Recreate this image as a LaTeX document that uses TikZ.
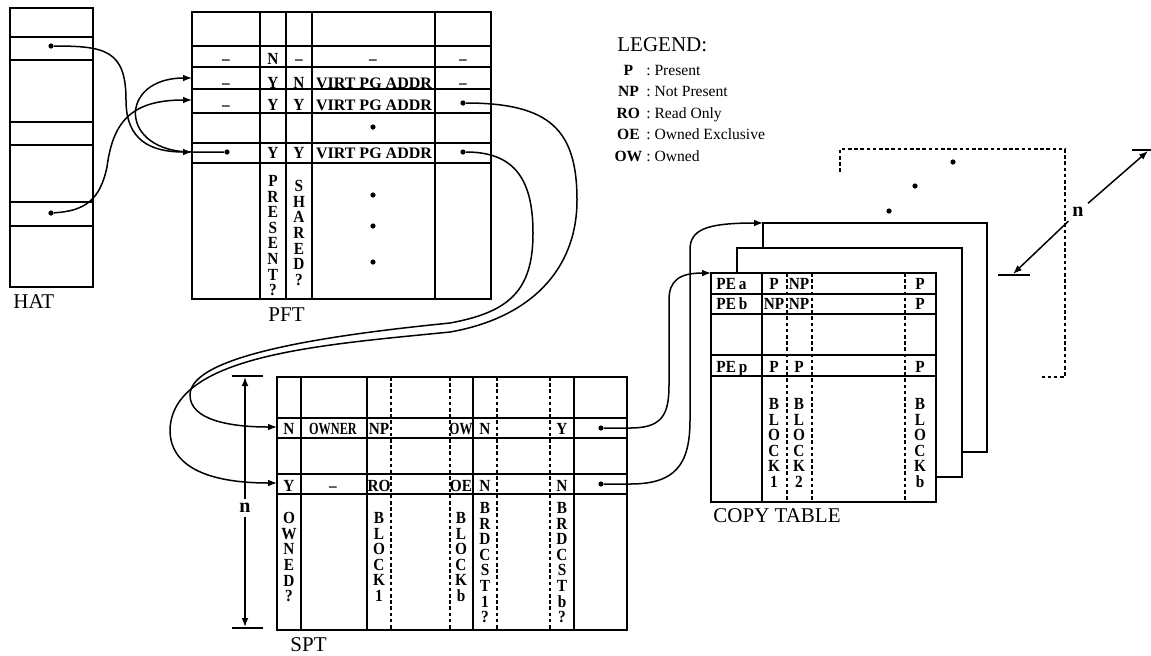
\documentclass[tikz,border=0pt]{standalone}
\usepackage{fontspec}
\usepackage{graphicx}
\setmainfont{Liberation Serif}
\newfontfamily\narrowserif[FakeStretch=0.9]{Liberation Serif}
\newcommand\cellfont{\narrowserif\bfseries\fontsize{8.5}{8.5}\selectfont}
\newcommand\vertfont{\narrowserif\bfseries\fontsize{8.5}{7.8}\selectfont}
\usetikzlibrary{arrows.meta}

\begin{document}
\begin{tikzpicture}[x=0.5pt, y=-0.5pt, >={Latex[length=4.5pt,width=3.4pt]},
    frame/.style={line width=1.2pt},
    backframe/.style={line width=0.9pt},
    rule/.style={line width=0.7pt},
    dotrule/.style={line width=0.7pt, dash pattern=on 1.8pt off 1.3pt},
    link/.style={line width=0.75pt},
    ptr/.style={circle, fill, inner sep=0pt, minimum size=2.6pt},
    cell/.style={inner sep=0pt, text height=5.5pt, text depth=0pt, font=\cellfont},
    wide/.style={cell, font=\bfseries\fontsize{8}{8}\selectfont},
    vert/.style={inner sep=0pt, anchor=north, align=center, font=\vertfont},
    title/.style={inner sep=0pt, anchor=base west, font=\fontsize{10.5}{12}\selectfont},
    dimlabel/.style={inner sep=2pt, font=\bfseries\fontsize{10}{12}\selectfont},
    legend/.style={inner sep=0pt, anchor=base west, font=\fontsize{7.8}{9}\selectfont}]
  \useasboundingbox (0,0) rectangle (1151,655);

  % HAT
  \draw[frame] (10,8) rectangle (93,287);
  \foreach \y in {37,60,122,145,202,226} \draw[rule] (10,\y) -- (93,\y);
  \node[ptr] (h1) at (51,46) {};
  \node[ptr] (h2) at (51,213) {};
  \node[title] (hat) at (13,308) {HAT};

  % PFT
  \draw[frame] (192,12) rectangle (491,299);
  \foreach \x in {260,286,312,435} \draw[rule] (\x,12) -- (\x,299);
  \foreach \y in {46,67,89,113,143,163} \draw[rule] (192,\y) -- (491,\y);
  \node[cell] (p1a) at (226,59) {\textendash};
  \node[cell] (p1b) at (273,59) {N};
  \node[cell] (p1c) at (299,59) {\textendash};
  \node[cell] (p1d) at (373,59) {\textendash};
  \node[cell] (p1e) at (463,59) {\textendash};
  \node[cell] (p2a) at (226,83) {\textendash};
  \node[cell] (p2b) at (273,83) {Y};
  \node[cell] (p2c) at (299,83) {N};
  \node[wide] (p2d) at (374,83) {VIRT PG ADDR};
  \node[cell] (p2e) at (463,83) {\textendash};
  \node[cell] (p3a) at (226,105) {\textendash};
  \node[cell] (p3b) at (273,105) {Y};
  \node[cell] (p3c) at (299,105) {Y};
  \node[wide] (p3d) at (374,105) {VIRT PG ADDR};
  \node[ptr]  (p3e) at (463,103) {};
  \node[ptr]  (p4d) at (373,127) {};
  \node[ptr]  (p5a) at (227,152) {};
  \node[cell] (p5b) at (273,153) {Y};
  \node[cell] (p5c) at (299,153) {Y};
  \node[wide] (p5d) at (374,153) {VIRT PG ADDR};
  \node[ptr]  (p5e) at (463,152) {};
  \node[vert] (pfpres) at (273,175) {P\\R\\E\\S\\E\\N\\T\\?};
  \node[vert] (pfshar) at (299,180) {S\\H\\A\\R\\E\\D\\?};
  \foreach \y [count=\i] in {195,226,262} \node[ptr] (pv\i) at (373,\y) {};
  \node[title] (pft) at (268,321) {PFT};

  % HAT -> PFT and the chain inside PFT
  \coordinate (pin2) at (192,78);
  \coordinate (pin3) at (192,100);
  \coordinate (pin5) at (192,152);
  \draw[->, link] (h1) .. controls (105,46) and (126,50) .. (126,100)
      .. controls (126,140) and (150,152) .. (pin5);
  \draw[->, link] (h2) .. controls (85,211) and (100,200) .. (107,167)
      .. controls (113,120) and (133,100) .. (pin3);
  \draw[->, link] (p5a) -- (pin5) .. controls (118,152) and (118,78) .. (pin2);

  % SPT
  \draw[frame] (277,377) rectangle (627,630);
  \foreach \x in {301,367,473,574} \draw[rule] (\x,377) -- (\x,630);
  \foreach \x in {391,450,497,550} \draw[dotrule] (\x,377) -- (\x,630);
  \foreach \y in {418,438,474,494} \draw[rule] (277,\y) -- (627,\y);
  \node[cell] (sn1) at (289,429) {N};
  \node[cell] (sn2) at (333,429) {\scalebox{0.8}[1]{OWNER}};
  \node[cell] (sn3) at (379,429) {NP};
  \node[cell] (sn4) at (461,429) {\scalebox{0.85}[1]{OW}};
  \node[cell] (sn5) at (485,429) {N};
  \node[cell] (sn6) at (562,429) {Y};
  \node[ptr]  (snp) at (601,428) {};
  \node[cell] (sy1) at (289,486) {Y};
  \node[cell] (sy2) at (333,486) {\textendash};
  \node[cell] (sy3) at (379,486) {RO};
  \node[cell] (sy4) at (461,486) {OE};
  \node[cell] (sy5) at (485,486) {N};
  \node[cell] (sy6) at (562,486) {N};
  \node[ptr]  (syp) at (601,484) {};
  \node[vert] (sowned) at (289,512) {O\\W\\N\\E\\D\\?};
  \node[vert] (sblk1)  at (379,512) {B\\L\\O\\C\\K\\1};
  \node[vert] (sblkb)  at (461,512) {B\\L\\O\\C\\K\\b};
  \node[vert] (sbrd1)  at (485,502) {B\\R\\D\\C\\S\\T\\1\\?};
  \node[vert] (sbrdb)  at (562,502) {B\\R\\D\\C\\S\\T\\b\\?};
  \node[title] (spt) at (290,651) {SPT};

  % n entries of the SPT
  \draw[rule] (232,376) -- (263,376);
  \draw[rule] (232,628) -- (263,628);
  \node[dimlabel] (nspt) at (245,508) {n};
  \coordinate (nsptt) at (245,377);
  \coordinate (nsptb) at (245,627);
  \draw[->, link] (nspt) -- (nsptt);
  \draw[->, link] (nspt) -- (nsptb);

  % PFT -> SPT
  \coordinate (sin1) at (277,427);
  \coordinate (sin2) at (277,483);
  \draw[->, link] (p3e) .. controls (550,103) and (577,130) .. (577,200)
      .. controls (577,270) and (530,318) .. (450,332)
      .. controls (320,345) and (172,355) .. (170,430)
      .. controls (170,470) and (215,483) .. (sin2);
  \draw[->, link] (p5e) .. controls (515,152) and (533,180) .. (533,233)
      .. controls (533,290) and (510,312) .. (450,323)
      .. controls (330,335) and (190,355) .. (190,395)
      .. controls (190,420) and (230,427) .. (sin1);

  % copy tables, one behind the other
  \draw[dotrule] (840,172) -- (840,149) -- (1065,149) -- (1065,377) -- (1042,377);
  \draw[backframe] (763,248) -- (763,223) -- (987,223) -- (987,452) -- (962,452);
  \draw[backframe] (737,273) -- (737,248) -- (962,248) -- (962,477) -- (936,477);
  \foreach \x/\y [count=\i] in {953/162,915/186,889/211} \node[ptr] (el\i) at (\x,\y) {};
  \draw[frame] (711,273) rectangle (936,502);
  \draw[rule] (762,273) -- (762,502);
  \foreach \x in {787,812,905} \draw[dotrule] (\x,273) -- (\x,502);
  \foreach \y in {294,314,355,376} \draw[rule] (711,\y) -- (936,\y);
  \node[cell, anchor=west] (ca1) at (716,284) {PE\,a};
  \node[cell] (ca2) at (774,284) {P};
  \node[cell] (ca3) at (799,284) {NP};
  \node[cell] (ca4) at (920,284) {P};
  \node[cell, anchor=west] (cb1) at (716,304) {PE\,b};
  \node[cell] (cb2) at (774,304) {NP};
  \node[cell] (cb3) at (799,304) {NP};
  \node[cell] (cb4) at (920,304) {P};
  \node[cell, anchor=west] (cp1) at (716,367) {PE\,p};
  \node[cell] (cp2) at (774,367) {P};
  \node[cell] (cp3) at (799,367) {P};
  \node[cell] (cp4) at (920,367) {P};
  \node[vert] (cblk1) at (774,398) {B\\L\\O\\C\\K\\1};
  \node[vert] (cblk2) at (799,398) {B\\L\\O\\C\\K\\2};
  \node[vert] (cblkb) at (920,398) {B\\L\\O\\C\\K\\b};
  \node[title] (copy) at (713,522) {COPY TABLE};

  % n copy tables
  \draw[rule] (998,275) -- (1030,275);
  \draw[rule] (1132,150) -- (1151,150);
  \node[dimlabel] (ncopy) at (1078,212) {n};
  \coordinate (ncopylo) at (1013,274);
  \coordinate (ncopyhi) at (1148,151);
  \draw[->, link] (ncopy) -- (ncopylo);
  \draw[->, link] (ncopy) -- (ncopyhi);

  % SPT -> copy tables
  \coordinate (cin1) at (711,273);
  \coordinate (cin3) at (763,223);
  \draw[->, link] (snp) -- (630,428) .. controls (662,428) and (669,415) .. (669,385)
      -- (669,300) .. controls (669,280) and (680,273) .. (cin1);
  \draw[->, link] (syp) -- (630,484) .. controls (675,484) and (690,465) .. (690,420)
      -- (690,250) .. controls (690,230) and (705,223) .. (cin3);

  % legend
  \node[title] (legtitle) at (617,51) {LEGEND:};
  \foreach \ab/\txt [count=\i] in {P/Present,NP/Not Present,RO/Read Only,OE/Owned Exclusive,OW/Owned}
    \node[legend] (leg\i) at (614,{53.5+21.5*\i}) {\makebox[14pt][c]{\textbf{\ab}}\ :\ \txt};
\end{tikzpicture}
\end{document}
